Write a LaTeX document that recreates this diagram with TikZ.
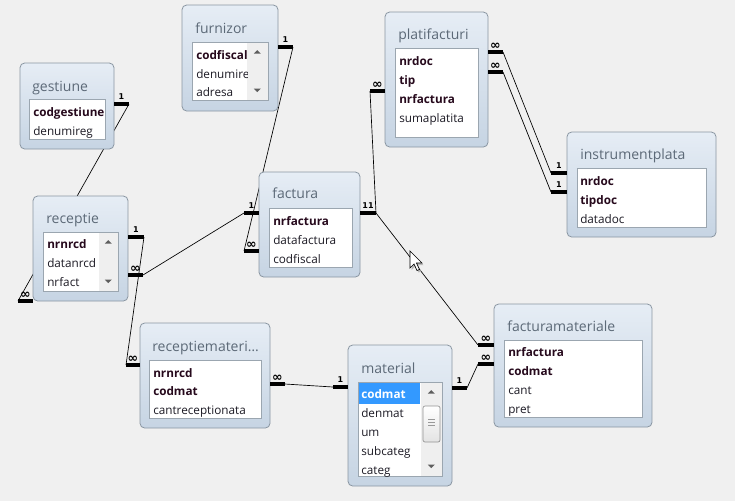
\documentclass[tikz,border=0pt]{standalone}
\usepackage{fontspec}
\setmainfont{Open Sans}
\newfontfamily\symf{DejaVu Sans}
\usetikzlibrary{fit}
\definecolor{bg}{HTML}{F0F0F0}
\definecolor{tblborder}{HTML}{8A96A2}
\definecolor{tbltop}{HTML}{E6EDF5}
\definecolor{tblbot}{HTML}{C6D4E3}
\definecolor{lstborder}{HTML}{9BA6B0}
\definecolor{ttlc}{HTML}{5C6977}
\definecolor{fldc}{HTML}{1C1A24}
\definecolor{keyc}{HTML}{26091C}
\definecolor{sbtrack}{HTML}{EFEFEF}
\definecolor{sbarrow}{HTML}{5E5E5E}
\definecolor{selc}{HTML}{3399FF}
\newcommand\stubdraw[4]{\draw[stub] (#1) -- ++(#2,0) node[#3, midway, above=2pt] (#1-l) {#4};}
\newcommand\sbar[4]{%
  \fill[sbtrack] (#1,#2) rectangle (#3,#4);
  \fill[sbarrow] ({(#1+#3)/2-3.5},{#2+11}) -- ({(#1+#3)/2+3.5},{#2+11}) -- ({(#1+#3)/2},{#2+7.5}) -- cycle;
  \fill[sbarrow] ({(#1+#3)/2-3.5},{#4-11}) -- ({(#1+#3)/2+3.5},{#4-11}) -- ({(#1+#3)/2},{#4-7.5}) -- cycle;}
\begin{document}
\begin{tikzpicture}[x=0.75pt,y=-0.75pt,
  tbl/.style={draw=tblborder, rounded corners=3.5pt, top color=tbltop, bottom color=tblbot, inner sep=0pt, line width=0.6pt},
  lst/.style={draw=lstborder, fill=white, line width=0.5pt},
  ttl/.style={anchor=base west, font=\fontsize{10.5}{12}\selectfont, text=ttlc, inner sep=0pt},
  fld/.style={anchor=base west, font=\fontsize{8.8}{10}\selectfont, text=fldc, inner sep=0pt},
  key/.style={anchor=base west, font=\fontsize{8.8}{10}\selectfont\bfseries, text=keyc, inner sep=0pt},
  stub/.style={line width=2.3pt},
  cone/.style={font=\symf\bfseries\fontsize{6}{6}\selectfont, inner sep=0pt},
  cinf/.style={font=\symf\bfseries\fontsize{9.5}{9}\selectfont, inner sep=0pt, yshift=-1.5pt},
  rel/.style={line width=0.5pt}]
\useasboundingbox[fill=bg] (0,0) rectangle (735,501);

% stub outer end points
\coordinate (g1) at (129,104);
\coordinate (rL) at (18,301);
\coordinate (r1) at (144,237);
\coordinate (rinf) at (143,275);
\coordinate (f1) at (293,47);
\coordinate (fa1) at (244,213);
\coordinate (fainf) at (244,251);
\coordinate (fa11) at (376,213);
\coordinate (pL) at (370,91);
\coordinate (pR1) at (503,52);
\coordinate (pR2) at (503,72);
\coordinate (i1a) at (551,173);
\coordinate (i1b) at (551,192);
\coordinate (rmR) at (285,384);
\coordinate (rmL) at (126,365);
\coordinate (mL) at (333,387);
\coordinate (mR) at (467,388);
\coordinate (fm1) at (478,345);
\coordinate (fm2) at (478,364);

% relationship lines
\draw[rel] (g1) -- (rL);
\draw[rel] (f1) -- (fainf);
\draw[rel] (rinf) -- (fa1);
\draw[rel] (r1) -- (rmL);
\draw[rel] (pL) -- (fa11);
\draw[rel] (fa11) -- (fm1);
\draw[rel] (mR) -- (fm2);
\draw[rel] (rmR) -- (mL);
\draw[rel] (pR1) -- (i1a);
\draw[rel] (pR2) -- (i1b);

% gestiune
\node[tbl, fit={(20,63)(114,149)}] (gestiune) {};
\draw[lst] (29,99) rectangle (105,139);
\node[ttl] (gestiune-t) at (32,91) {gestiune};
\node[key] (gestiune-a) at (33,116) {codgestiune};
\node[fld] (gestiune-b) at (33,135) {denumireg};

% receptie
\node[tbl, fit={(33,196)(128,301)}] (receptie) {};
\draw[lst] (43,232) rectangle (118,291);
\sbar{99}{232.5}{117.5}{290.5}
\node[ttl] (receptie-t) at (46,223) {receptie};
\node[key] (receptie-a) at (47,248) {nrnrcd};
\node[fld] (receptie-b) at (47,267) {datanrcd};
\node[fld] (receptie-c) at (47,286) {nrfact};

% furnizor
\node[tbl, fit={(182,5)(278,111)}] (furnizor) {};
\draw[lst] (192,42) rectangle (268,100);
\sbar{247}{42.5}{267.5}{99.5}
\node[ttl] (furnizor-t) at (195,33) {furnizor};
\begin{scope}
\clip (192,42) rectangle (247,100);
\node[key] (furnizor-a) at (196,59) {codfiscal};
\node[fld] (furnizor-b) at (196,78) {denumire};
\node[fld] (furnizor-c) at (196,96) {adresa};
\end{scope}

% factura
\node[tbl, fit={(259,172)(360,277)}] (factura) {};
\draw[lst] (269,208) rectangle (352,267);
\node[ttl] (factura-t) at (272,198) {factura};
\node[key] (factura-a) at (273,225) {nrfactura};
\node[fld] (factura-b) at (273,244) {datafactura};
\node[fld] (factura-c) at (273,263) {codfiscal};

% platifacturi
\node[tbl, fit={(385,12)(488,147)}] (platifacturi) {};
\draw[lst] (395,48) rectangle (478,137);
\node[ttl] (platifacturi-t) at (398,39) {platifacturi};
\node[key] (platifacturi-a) at (399,65) {nrdoc};
\node[key] (platifacturi-b) at (399,84) {tip};
\node[key] (platifacturi-c) at (399,103) {nrfactura};
\node[fld] (platifacturi-d) at (399,122) {sumaplatita};

% instrumentplata
\node[tbl, fit={(567,132)(716,237)}] (instrumentplata) {};
\draw[lst] (577,168) rectangle (706,227);
\node[ttl] (instrumentplata-t) at (580,159) {instrumentplata};
\node[key] (instrumentplata-a) at (580,185) {nrdoc};
\node[key] (instrumentplata-b) at (580,204) {tipdoc};
\node[fld] (instrumentplata-c) at (580,223) {datadoc};

% receptiemateriale
\node[tbl, fit={(140,323)(270,428)}] (receptiemateriale) {};
\draw[lst] (149,360) rectangle (261,418);
\node[ttl] (receptiemateriale-t) at (152,351) {receptiemateri…};
\node[key] (receptiemateriale-a) at (153,377) {nrnrcd};
\node[key] (receptiemateriale-b) at (153,395) {codmat};
\node[fld] (receptiemateriale-c) at (153,414) {cantreceptionata};

% material
\node[tbl, fit={(348,345)(452,486)}] (material) {};
\draw[lst] (358,382) rectangle (442,476);
\sbar{421}{382.5}{441.5}{475.5}
\draw[draw=gray!85, top color=white, bottom color=gray!22, rounded corners=1.5pt, line width=0.5pt] (423,406) rectangle (440,442);
\draw[gray!80, line width=0.5pt] (428,419) -- (435,419) (428,422) -- (435,422) (428,425) -- (435,425);
\node[ttl] (material-t) at (361,373) {material};
\fill[selc] (358.5,383) rectangle (420,404);
\begin{scope}
\clip (358,382) rectangle (421,476);
\node[key, text=white] (material-a) at (361,398) {codmat};
\node[fld] (material-b) at (361,417) {denmat};
\node[fld] (material-c) at (361,436) {um};
\node[fld] (material-d) at (361,455) {subcateg};
\node[fld] (material-e) at (361,474) {categ};
\end{scope}

% facturamateriale
\node[tbl, fit={(494,304)(652,427)}] (facturamateriale) {};
\draw[lst] (504,340) rectangle (642,417);
\node[ttl] (facturamateriale-t) at (507,331) {facturamateriale};
\node[key] (facturamateriale-a) at (508,356) {nrfactura};
\node[key] (facturamateriale-b) at (508,375) {codmat};
\node[fld] (facturamateriale-c) at (508,394) {cant};
\node[fld] (facturamateriale-d) at (508,413) {pret};

% stubs with cardinality labels
\stubdraw{g1}{-15}{cone}{1}
\stubdraw{rL}{15}{cinf}{∞}
\stubdraw{r1}{-16}{cone}{1}
\stubdraw{rinf}{-15}{cinf}{∞}
\stubdraw{f1}{-15}{cone}{1}
\stubdraw{fa1}{15}{cone}{1}
\stubdraw{fainf}{15}{cinf}{∞}
\stubdraw{fa11}{-16}{cone}{11}
\stubdraw{pL}{15}{cinf}{∞}
\stubdraw{pR1}{-15}{cinf}{∞}
\stubdraw{pR2}{-15}{cinf}{∞}
\stubdraw{i1a}{16}{cone}{1}
\stubdraw{i1b}{16}{cone}{1}
\stubdraw{rmR}{-15}{cinf}{∞}
\stubdraw{rmL}{14}{cinf}{∞}
\stubdraw{mL}{15}{cone}{1}
\stubdraw{mR}{-15}{cone}{1}
\stubdraw{fm1}{16}{cinf}{∞}
\stubdraw{fm2}{16}{cinf}{∞}

% mouse cursor
\fill[gray!55] (411.5,253) -- (411.5,270) -- (415.5,266) -- (418.5,272.5) -- (421,271.5) -- (418,265) -- (423.5,265) -- cycle;
\draw[fill=white, line width=0.5pt, line join=miter] (410,251) -- (410,268) -- (414,264) -- (417,270.5) -- (419.5,269.5) -- (416.5,263) -- (422,263) -- cycle;
\end{tikzpicture}
\end{document}
